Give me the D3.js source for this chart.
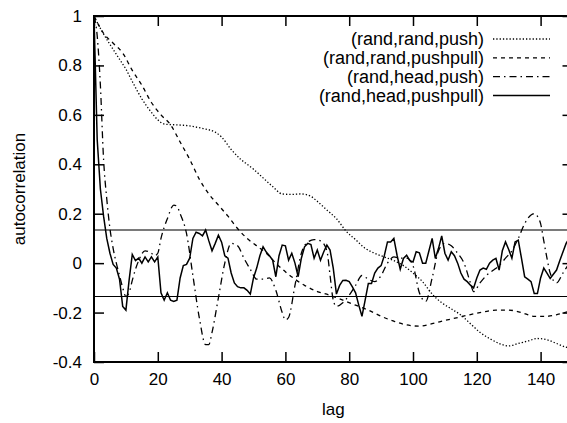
<!DOCTYPE html>
<html>
<head>
<meta charset="utf-8">
<script src="https://cdn.jsdelivr.net/npm/d3@7"></script>
<style>
  body { margin: 0; background: #fff; }
  svg { display: block; }
  text { font-family: "Liberation Sans", Arial, sans-serif; fill: #000; }
</style>
</head>
<body>
<svg id="chart" width="567" height="423"></svg>
<script>
// (rand,rand,push)
const pushRRLags = [0,2,5,8,10,12,15,18,20,22,25,28,30,34,38,40,43,46,48,50,53,56,59,62,65,68,70,73,76,79,82,85,88,91,94,97,100,103,106,109,112,115,118,121,124,127,130,133,136,139,142,145,148,150];
const pushRRVals = [1.0,0.95,0.885,0.825,0.785,0.735,0.665,0.61,0.58,0.563,0.56,0.558,0.555,0.545,0.53,0.51,0.46,0.42,0.40,0.38,0.345,0.31,0.28,0.278,0.28,0.27,0.25,0.215,0.18,0.13,0.095,0.06,0.04,0.025,0.01,-0.01,-0.04,-0.075,-0.125,-0.16,-0.185,-0.21,-0.245,-0.28,-0.305,-0.325,-0.335,-0.325,-0.315,-0.305,-0.31,-0.325,-0.34,-0.345];

// (rand,rand,pushpull)
const pushpullRRLags = [0,3,6,9,12,15,18,21,24,27,30,33,36,39,42,45,48,51,54,57,60,63,66,70,74,78,82,86,90,94,98,102,106,110,114,118,122,126,130,134,138,142,146,150];
const pushpullRRVals = [1.0,0.93,0.89,0.85,0.78,0.72,0.65,0.6,0.56,0.49,0.42,0.34,0.28,0.235,0.19,0.14,0.10,0.07,0.04,0.0,-0.035,-0.065,-0.09,-0.115,-0.13,-0.15,-0.17,-0.19,-0.215,-0.235,-0.25,-0.255,-0.245,-0.232,-0.22,-0.208,-0.198,-0.19,-0.19,-0.2,-0.215,-0.215,-0.205,-0.19];

// (rand,head,push)
const pushRHLags = [0,1,2,3,4,5,6,7,8,9,10,11,12,13,14,16,18,19,20,21,23,25,26,27,29,31,33,35,36,37,39,41,43,45,47,49,51,53,55,57,59,60,61,63,65,67,69,71,73,74,75,76,78,80,82,84,86,88,90,92,94,96,98,100,102,104,106,108,110,112,114,116,118,119,121,123,125,127,129,131,133,135,137,138,139,140,141,142,143,145,147,149,150];
const pushRHVals = [1.0,0.92,0.72,0.42,0.26,0.14,0.06,0.0,-0.05,-0.1,-0.135,-0.12,-0.07,-0.025,0.01,0.05,0.04,0.03,0.04,0.1,0.18,0.235,0.23,0.2,0.12,-0.05,-0.22,-0.33,-0.33,-0.28,-0.14,0.0,0.08,0.07,0.02,-0.025,-0.065,-0.065,-0.06,-0.11,-0.2,-0.23,-0.22,-0.09,0.04,0.085,0.095,0.09,0.05,-0.05,-0.15,-0.175,-0.16,-0.13,-0.09,-0.05,-0.065,-0.075,-0.05,0.0,0.025,0.02,0.02,-0.01,-0.12,-0.155,-0.06,0.05,0.08,0.07,0.04,0.0,-0.08,-0.115,-0.08,-0.05,-0.03,-0.01,0.02,0.05,0.1,0.16,0.195,0.2,0.19,0.16,0.09,0.02,-0.04,-0.08,-0.04,0.0,0.02];

// (rand,head,pushpull), one value per lag 0..150
const pushpullRHVals = [1.0,0.5,0.3,0.19,0.1,0.04,-0.005,-0.02,-0.065,-0.175,
  -0.19,-0.07,0.035,0.01,0.02,0.0,0.025,0.005,0.025,0.005,
  0.025,-0.12,-0.15,-0.12,-0.15,-0.155,-0.15,-0.06,-0.01,-0.005,
  0.02,0.1,0.125,0.12,0.11,0.134,0.09,0.05,0.08,0.113,
  0.085,0.03,0.02,-0.04,-0.08,-0.095,-0.1,-0.1,-0.11,-0.125,
  -0.06,-0.02,0.03,0.066,0.045,0.03,0.012,-0.055,0.03,0.073,
  0.07,0.012,0.04,0.0,-0.055,0.02,0.066,0.08,0.075,0.02,
  0.053,0.012,0.045,0.073,0.053,-0.02,-0.125,-0.09,-0.07,-0.069,
  -0.075,-0.096,-0.12,-0.17,-0.215,-0.15,-0.082,-0.082,-0.04,-0.02,
  -0.01,0.03,0.086,0.086,0.1,0.032,-0.025,0.019,0.032,0.01,
  0.005,0.046,0.042,0.0,0.0,0.05,0.1,0.019,0.06,0.11,
  0.04,0.012,0.046,0.03,0.0,-0.04,-0.065,-0.075,-0.089,-0.1,
  -0.06,-0.028,-0.02,-0.025,0.0,0.012,0.019,-0.028,0.05,0.086,
  0.055,0.02,0.086,0.093,0.02,-0.055,-0.065,-0.075,-0.123,-0.123,
  -0.06,-0.02,-0.04,-0.062,-0.045,-0.028,0.01,0.045,0.08,0.1,
  0.12];

const seriesNames = ["(rand,rand,push)", "(rand,rand,pushpull)", "(rand,head,push)", "(rand,head,pushpull)"];
const xTicks = [0,20,40,60,80,100,120,140];
const yTicks = [-0.4,-0.2,0,0.2,0.4,0.6,0.8,1];
const bandLevel = 0.134;

function drawAcf(holder){
	let margin = {"left": 94, "top": 16, "bottom": 61, "right": -5.5};
	let width = 567;
	let height = 423;
	let svg = d3.select(holder);

	let x = d3.scaleLinear()
		.domain([0, 150])
		.range([margin.left, width - margin.right]);
	let y = d3.scaleLinear()
		.domain([-0.4, 1])
		.range([height - margin.bottom, margin.top]);

	svg.append("defs").append("clipPath").attr("id", "plotClip")
		.append("rect")
		.attr("x", x(0)).attr("y", y(1))
		.attr("width", x(150) - x(0)).attr("height", y(-0.4) - y(1));

	let series = [
		{"name": seriesNames[0], "points": pushRRLags.map((l, i) => [l, pushRRVals[i]]), "dash": "1.3,2", "curve": d3.curveMonotoneX, "w": 1.3},
		{"name": seriesNames[1], "points": pushpullRRLags.map((l, i) => [l, pushpullRRVals[i]]), "dash": "4,4", "curve": d3.curveMonotoneX, "w": 1.3},
		{"name": seriesNames[2], "points": pushRHLags.map((l, i) => [l, pushRHVals[i]]), "dash": "7,4,1.5,4", "curve": d3.curveMonotoneX, "w": 1.3},
		{"name": seriesNames[3], "points": pushpullRHVals.map((v, i) => [i, v]), "dash": null, "curve": d3.curveLinear, "w": 1.5}
	];

	// significance band: the upper one lands between pixel rows and looks grey
	svg.append("g").selectAll("line.band")
		.data([bandLevel, -bandLevel])
		.join("line")
		.attr("class", "band")
		.attr("x1", x(0)).attr("x2", x(150))
		.attr("y1", d => d > 0 ? Math.round(y(d)) : Math.floor(y(d)) + 0.5)
		.attr("y2", d => d > 0 ? Math.round(y(d)) : Math.floor(y(d)) + 0.5)
		.attr("stroke", d => d > 0 ? "#7a7a7a" : "#000")
		.attr("stroke-width", d => d > 0 ? 2 : 1);

	const line = d3.line()
		.x(d => x(d[0]))
		.y(d => y(d[1]));

	svg.append("g")
		.attr("clip-path", "url(#plotClip)")
		.attr("fill", "none")
		.attr("stroke", "#000")
		.selectAll("path")
		.data(series)
		.join("path")
		.attr("stroke-width", d => d.w)
		.attr("stroke-dasharray", d => d.dash)
		.attr("d", d => line.curve(d.curve)(d.points));

	// axes, ticks pointing inward on all four sides
	let fmt = d => String(+d.toFixed(1));
	svg.append("g")
		.attr("transform", `translate(0,${y(-0.4)})`)
		.call(d3.axisBottom(x).tickValues(xTicks).tickSizeInner(-10).tickSizeOuter(0).tickPadding(11).tickFormat(fmt));
	svg.append("g")
		.attr("transform", `translate(0,${y(1)})`)
		.call(d3.axisTop(x).tickValues(xTicks).tickSizeInner(-10).tickSizeOuter(0).tickFormat(""));
	svg.append("g")
		.attr("transform", `translate(${x(0)},0)`)
		.call(d3.axisLeft(y).tickValues(yTicks).tickSizeInner(-10).tickSizeOuter(0).tickPadding(12).tickFormat(fmt));
	svg.append("g")
		.attr("transform", `translate(${x(150)},0)`)
		.call(d3.axisRight(y).tickValues(yTicks).tickSizeInner(-10).tickSizeOuter(0).tickFormat(""));

	svg.selectAll(".tick line").attr("stroke", "#000").attr("stroke-width", 1.5);
	svg.selectAll(".domain").remove();
	svg.selectAll(".tick text")
		.attr("font-family", "Liberation Sans, Arial, sans-serif")
		.attr("font-size", 17)
		.attr("fill", "#000");

	svg.append("rect")
		.attr("x", x(0)).attr("y", y(1))
		.attr("width", x(150) - x(0)).attr("height", y(-0.4) - y(1))
		.attr("fill", "none")
		.attr("stroke", "#000")
		.attr("stroke-width", 2);

	// axis titles
	svg.append("text")
		.attr("x", (x(0) + x(150)) / 2)
		.attr("y", 415)
		.attr("text-anchor", "middle")
		.attr("font-size", 17)
		.text("lag");
	svg.append("text")
		.attr("transform", `translate(25,${(y(1) + y(-0.4)) / 2}) rotate(-90)`)
		.attr("text-anchor", "middle")
		.attr("font-size", 17)
		.text("autocorrelation");

	drawLegend(svg.append("g").attr("class", "legend"), series);
}

function drawLegend(g, series){
	let rows = g.selectAll("g")
		.data(series)
		.join("g")
		.attr("transform", (d, i) => `translate(0,${39 + i * 18.8})`);
	rows.append("text")
		.attr("x", 484)
		.attr("dy", "0.35em")
		.attr("text-anchor", "end")
		.attr("font-size", 18)
		.text(d => d.name);
	rows.append("line")
		.attr("x1", 493).attr("x2", 550)
		.attr("y1", 0).attr("y2", 0)
		.attr("stroke", "#000")
		.attr("stroke-width", d => d.w)
		.attr("stroke-dasharray", d => d.dash);
}

drawAcf("#chart");
</script>
</body>
</html>
